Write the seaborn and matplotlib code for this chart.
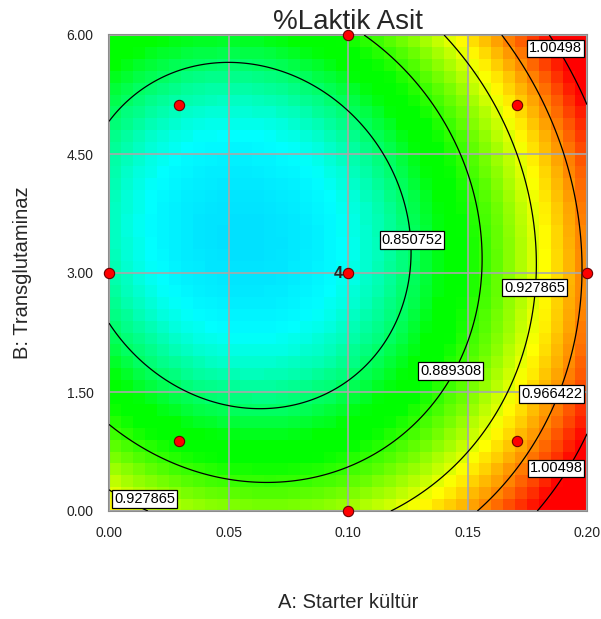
import numpy as np
import matplotlib
matplotlib.use('Agg')
import matplotlib.pyplot as plt
import seaborn as sns
import pandas as pd
from matplotlib.colors import LinearSegmentedColormap

sns.set_style('white')
plt.rcParams['font.family'] = ['Liberation Sans', 'DejaVu Sans']

# ---- data ----
title = '%Laktik Asit'
x_label = 'A: Starter kültür'
y_label = 'B: Transglutaminaz'
x_ticks = [0.00, 0.05, 0.10, 0.15, 0.20]
y_ticks = [0.00, 1.50, 3.00, 4.50, 6.00]
x_tick_labels = ['0.00', '0.05', '0.10', '0.15', '0.20']
y_tick_labels = ['0.00', '1.50', '3.00', '4.50', '6.00']
contour_levels = [0.850752, 0.889308, 0.927865, 0.966422, 1.00498]

# quadratic response-surface model in coded units (x=(A-0.1)/0.1, y=(B-3)/3)
coef_intercept = 0.82881
coef_A = 0.06489
coef_B = -0.01630
coef_A2 = 0.07729
coef_B2 = 0.07113
coef_AB = 0.01405

# design points
design_A = [0.0, 0.0293, 0.0293, 0.1, 0.1, 0.1, 0.1707, 0.1707, 0.2]
design_B = [3.0, 0.879, 5.121, 0.0, 3.0, 6.0, 0.879, 5.121, 3.0]
center_replicates = '4'

# colour gradient anchors (value, colour)
grad_values = [0.720, 0.826, 0.867, 0.878, 0.935, 1.004]
grad_colors = ['#0000ff', '#00ffff', '#00ff00', '#00ff00', '#ffff00', '#ff0000']

# contour label positions (A, B)
label_pos = [(0.12678, 3.416), (0.14289, 1.765), (0.17803, 2.817), (0.18515, 1.475),
             (0.18682, 5.830), (0.18703, 0.536), (0.014854, 0.151)]


def model(A, B):
    x = (A - 0.1) / 0.1
    y = (B - 3.0) / 3.0
    return (coef_intercept + coef_A * x + coef_B * y + coef_A2 * x ** 2
            + coef_B2 * y ** 2 + coef_AB * x * y)


fig = plt.figure(figsize=(6.01, 6.19), dpi=100)
ax = fig.add_axes([109 / 601, 1 - 511 / 619, 478 / 601, 476 / 619])

vmin, vmax = grad_values[0], grad_values[-1]
cmap = LinearSegmentedColormap.from_list(
    'de', [((v - vmin) / (vmax - vmin), c) for v, c in zip(grad_values, grad_colors)])

n = 40
ae = np.linspace(0, 0.2, n + 1)
be = np.linspace(0, 6, n + 1)
ac = (ae[:-1] + ae[1:]) / 2
bc = (be[:-1] + be[1:]) / 2
Z = model(ac[None, :], bc[:, None])
ax.pcolormesh(ae, be, Z, cmap=cmap, vmin=vmin, vmax=vmax, zorder=0)

af = np.linspace(0, 0.2, 400)
bf = np.linspace(0, 6, 400)
Zf = model(af[None, :], bf[:, None])
cs = ax.contour(af, bf, Zf, levels=contour_levels, colors='black',
                linewidths=0.9, zorder=3)
texts = ax.clabel(cs, inline=False, fmt='%.6g', fontsize=10.5,
                  manual=label_pos, zorder=5)
for t, pos in zip(texts, label_pos):
    t.set_rotation(0)
    t.set_position(pos)
    t.set_ha('center')
    t.set_va('center')
    t.set_bbox(dict(boxstyle='square,pad=0.12', fc='white', ec='black', lw=0.9))
    t.set_clip_on(True)

ax.grid(True, color='#a8a8a8', lw=1.2, zorder=2)
ax.set_axisbelow(False)

df = pd.DataFrame({'A': design_A, 'B': design_B})
sns.scatterplot(data=df, x='A', y='B', ax=ax, color='#ff0000', edgecolor='#6a0000',
                linewidth=0.8, s=55, zorder=6, clip_on=False, legend=False)
ax.annotate(center_replicates, (0.1, 3.0), xytext=(-4, 0), textcoords='offset points',
            ha='right', va='center', fontsize=11.5, fontweight='bold', zorder=7)

ax.set_xlim(0, 0.2)
ax.set_ylim(0, 6)
ax.set_xticks(x_ticks)
ax.set_xticklabels(x_tick_labels)
ax.set_yticks(y_ticks)
ax.set_yticklabels(y_tick_labels)
ax.tick_params(axis='both', direction='out', length=7, width=1.3, color='#808080',
               labelsize=10, pad=4, labelcolor='#222222')
for s in ax.spines.values():
    s.set_color('#8c8c8c')
    s.set_linewidth(1.5)

ax.set_title(title, fontsize=20, pad=4)
ax.set_xlabel(x_label, fontsize=14.5, labelpad=38)
ax.set_ylabel(y_label, fontsize=14.5, labelpad=25)

fig.savefig('out.png', dpi=100)
